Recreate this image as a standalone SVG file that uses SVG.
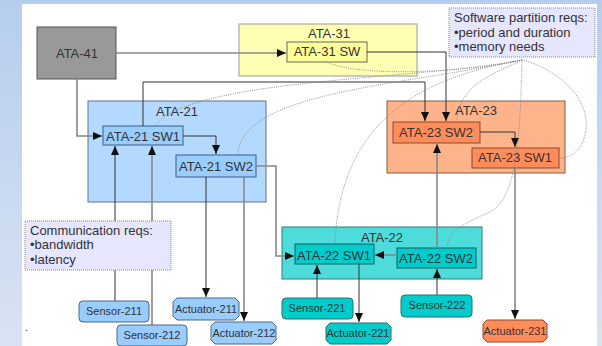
<svg xmlns="http://www.w3.org/2000/svg" width="602" height="346" viewBox="0 0 602 346">
<defs>
<linearGradient id="bg" x1="0" y1="0" x2="0" y2="1">
<stop offset="0" stop-color="#b6cdee"/>
<stop offset="1" stop-color="#d8e3f2"/>
</linearGradient>
<marker id="ah" markerUnits="userSpaceOnUse" markerWidth="10" markerHeight="8" refX="9" refY="4" orient="auto">
<path d="M0,0 L9,4 L0,8 Z" fill="#111"/>
</marker>
<style>
text{font-family:"Liberation Sans",Arial,sans-serif;fill:#333;}
.t13{font-size:13px;}
.t11{font-size:11px;}
.c{text-anchor:middle;}
.dk{fill:none;stroke:#333;stroke-width:1;}
.gr{fill:none;stroke:#888;stroke-width:1.6;}
.dot{fill:none;stroke:#888;stroke-width:0.9;stroke-dasharray:1 1.2;}
.note{fill:#e6e6ff;stroke:#888;stroke-width:1;stroke-dasharray:1 1;}
</style>
</defs>
<rect x="0" y="0" width="602" height="346" fill="url(#bg)"/>
<rect x="22" y="4" width="575" height="342" fill="#ffffff"/>

<g id="ATA-41">
<rect x="37" y="27" width="79" height="52" fill="#999999" stroke="#555" stroke-width="1"/>
<text class="t13 c" x="77" y="58">ATA-41</text>
</g>
<g id="ATA-31">
<rect x="239" y="24" width="178" height="52" fill="#ffffb3" stroke="#999" stroke-width="1"/>
<text class="t13 c" x="329" y="38">ATA-31</text>
</g>
<g id="ATA-21">
<rect x="88" y="101" width="178" height="101" fill="#b3d9ff" stroke="#5f7389" stroke-width="1"/>
<text class="t13 c" x="177" y="116">ATA-21</text>
</g>
<g id="ATA-23">
<rect x="387" y="101" width="178" height="72" fill="#ffb38a" stroke="#8a5a40" stroke-width="1"/>
<text class="t13 c" x="476" y="115">ATA-23</text>
</g>
<g id="ATA-22">
<rect x="282" y="227" width="200" height="52" fill="#4ddbdb" stroke="#2f7f7f" stroke-width="1"/>
<text class="t13 c" x="382" y="242">ATA-22</text>
</g>

<g id="ATA-31-SW">
<rect x="287" y="42" width="80" height="20" fill="#ffff99" stroke="#666" stroke-width="1"/>
<text class="t13 c" x="327" y="56">ATA-31 SW</text>
</g>
<g id="ATA-21-SW1">
<rect x="103" y="126" width="80" height="19" fill="#99ccff" stroke="#3d5f80" stroke-width="1"/>
<text class="t13 c" x="143" y="141">ATA-21 SW1</text>
</g>
<g id="ATA-21-SW2">
<rect x="176" y="155" width="80" height="22" fill="#99ccff" stroke="#3d5f80" stroke-width="1"/>
<text class="t13 c" x="216" y="171">ATA-21 SW2</text>
</g>
<g id="ATA-23-SW2">
<rect x="393" y="122" width="87" height="21" fill="#ff8c5a" stroke="#8a4a2a" stroke-width="1"/>
<text class="t13 c" x="436" y="137">ATA-23 SW2</text>
</g>
<g id="ATA-23-SW1">
<rect x="472" y="148" width="87" height="20" fill="#ff8c5a" stroke="#8a4a2a" stroke-width="1"/>
<text class="t13 c" x="515" y="162">ATA-23 SW1</text>
</g>
<g id="ATA-22-SW1">
<rect x="295" y="244" width="79" height="20" fill="#00cccc" stroke="#135f5f" stroke-width="1"/>
<text class="t13 c" x="334" y="260">ATA-22 SW1</text>
</g>
<g id="ATA-22-SW2">
<rect x="397" y="248" width="79" height="20" fill="#00cccc" stroke="#135f5f" stroke-width="1"/>
<text class="t13 c" x="436" y="263">ATA-22 SW2</text>
</g>

<g id="connectors">
<path class="gr" d="M116,53 H286" marker-end="url(#ah)"/>
<path class="gr" d="M77,79 V136 H102" marker-end="url(#ah)"/>
<path class="dk" d="M183,136 H216 V154" marker-end="url(#ah)"/>
<path class="dk" d="M143,126 V82 H425 V121" marker-end="url(#ah)"/>
<path class="dk" d="M367,52 H446 V121" marker-end="url(#ah)"/>
<path class="dk" d="M480,132 H515 V147" marker-end="url(#ah)"/>
<path class="gr" d="M515,168 V319" marker-end="url(#ah)"/>
<path class="gr" d="M437,248 V144" marker-end="url(#ah)"/>
<path class="gr" d="M256,166 H276 V256 H294" marker-end="url(#ah)"/>
<path class="gr" d="M397,255 H375" marker-end="url(#ah)"/>
<path class="dk" d="M317,298 V265" marker-end="url(#ah)"/>
<path class="dk" d="M359,264 V322" marker-end="url(#ah)"/>
<path class="dk" d="M437,295 V269" marker-end="url(#ah)"/>
<path class="dk" d="M115,301 V146" marker-end="url(#ah)"/>
<path class="gr" d="M152,325 V146" marker-end="url(#ah)"/>
<path class="dk" d="M206,177 V297" marker-end="url(#ah)"/>
<path class="gr" d="M244,177 V321" marker-end="url(#ah)"/>
<path class="dot" d="M522,60 C470,72 360,78 327,62"/>
<path class="dot" d="M522,60 C420,80 190,78 155,126"/>
<path class="dot" d="M522,60 C400,86 240,92 238,155"/>
<path class="dot" d="M522,60 C420,78 340,120 335,244"/>
<path class="dot" d="M522,60 C500,72 458,82 457,122"/>
<path class="dot" d="M522,60 C545,65 590,90 586,130 C583,150 572,158 559,158"/>
<path class="dot" d="M522,60 C520,150 515,198 490,212 C462,224 448,232 447,248"/>
</g>

<g id="comm-reqs">
<rect class="note" x="25" y="221" width="146" height="49"/>
<text class="t13" x="30" y="235">Communication reqs:</text>
<text class="t13" x="30" y="249">•bandwidth</text>
<text class="t13" x="30" y="264">•latency</text>
</g>
<g id="sw-reqs">
<rect class="note" x="449" y="8" width="146" height="49"/>
<text class="t13" x="454" y="22">Software partition reqs:</text>
<text class="t13" x="454" y="37">•period and duration</text>
<text class="t13" x="454" y="51">•memory needs</text>
</g>

<g id="Sensor-211">
<rect x="79" y="301" width="70" height="21" rx="4" fill="#99ccff" stroke="#4d6680" stroke-width="1"/>
<text class="t11 c" x="114" y="315">Sensor-211</text>
</g>
<g id="Sensor-212">
<rect x="117" y="325" width="70" height="21" rx="4" fill="#99ccff" stroke="#4d6680" stroke-width="1"/>
<text class="t11 c" x="152" y="339">Sensor-212</text>
</g>
<g id="Actuator-211">
<polygon points="177,298 235,298 239,302 239,316 235,320 177,320 173,316 173,302" fill="#99ccff" stroke="#4d6680" stroke-width="1"/>
<text class="t11 c" x="206" y="313">Actuator-211</text>
</g>
<g id="Actuator-212">
<polygon points="215,322 272,322 276,326 276,340 272,344 215,344 211,340 211,326" fill="#99ccff" stroke="#4d6680" stroke-width="1"/>
<text class="t11 c" x="244" y="337">Actuator-212</text>
</g>
<g id="Sensor-221">
<rect x="282" y="298" width="71" height="21" rx="4" fill="#00cccc" stroke="#2f6f6f" stroke-width="1"/>
<text class="t11 c" x="317" y="312">Sensor-221</text>
</g>
<g id="Actuator-221">
<polygon points="330,323 387,323 391,327 391,340 387,344 330,344 326,340 326,327" fill="#00cccc" stroke="#2f6f6f" stroke-width="1"/>
<text class="t11 c" x="358" y="337">Actuator-221</text>
</g>
<g id="Sensor-222">
<rect x="401" y="295" width="71" height="22" rx="4" fill="#00cccc" stroke="#2f6f6f" stroke-width="1"/>
<text class="t11 c" x="437" y="309">Sensor-222</text>
</g>
<g id="Actuator-231">
<polygon points="487,320 543,320 547,324 547,338 543,342 487,342 483,338 483,324" fill="#ff8c5a" stroke="#8a4a2a" stroke-width="1"/>
<text class="t11 c" x="515" y="335">Actuator-231</text>
</g>
<text class="t11" x="25" y="331">.</text>
</svg>
